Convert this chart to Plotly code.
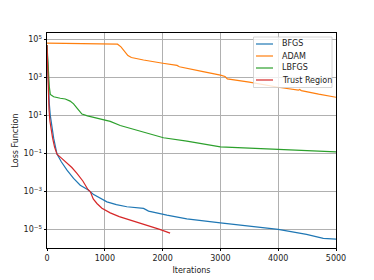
import plotly.graph_objects as go

# ---- data ----
bfgs_iter = [0, 10, 25, 40, 57, 80, 115, 173, 250, 346, 460, 575, 708, 800, 921, 1037,
             1200, 1382, 1670, 1757, 2074, 2419, 3000, 3456, 4000, 4490, 4780, 5000]
bfgs_loss = [5.0e4, 6.3e3, 316, 40, 10, 2.5, 0.63, 0.091, 0.035, 0.013, 4.8e-3, 2.1e-3,
             1.2e-3, 7.1e-4, 4.3e-4, 2.8e-4, 2.0e-4, 1.55e-4, 1.26e-4, 9.1e-5, 5.6e-5,
             3.6e-5, 2.2e-5, 1.5e-5, 1.0e-5, 5.5e-6, 3.4e-6, 3.1e-6]

adam_iter = [0, 600, 1220, 1280, 1340, 1400, 1460, 1560, 1670, 2004, 2250, 2290, 2425,
             2700, 3000, 3080, 3120, 3500, 4000, 4350, 4370, 4400, 4700, 5000]
adam_loss = [6.2e4, 5.8e4, 5.5e4, 4.0e4, 2.2e4, 1.4e4, 1.1e4, 9.3e3, 8.1e3, 5.5e3, 4.2e3,
             3.6e3, 2.9e3, 2.0e3, 1.3e3, 1.1e3, 830, 560, 300, 210, 230, 200, 130, 89]

lbfgs_iter = [0, 20, 40, 57, 115, 230, 316, 400, 460, 530, 605, 700, 805, 978, 1094, 1267,
              1500, 1728, 2015, 2419, 2650, 3000, 3500, 4000, 4500, 5000]
lbfgs_loss = [5.0e4, 3.2e3, 316, 126, 95, 79, 72, 56, 40, 22, 11.7, 9.3, 7.8, 6.2, 4.8,
              2.9, 1.8, 1.15, 0.66, 0.44, 0.34, 0.22, 0.19, 0.16, 0.14, 0.12]

tr_iter = [0, 8, 20, 35, 50, 70, 97, 130, 173, 250, 346, 430, 518, 620, 708, 750, 800,
           864, 950, 1094, 1250, 1440, 1600, 1785, 1950, 2130]
tr_loss = [5.0e4, 3.2e3, 160, 20, 5, 1.6, 0.63, 0.22, 0.091, 0.056, 0.032, 0.018, 8.9e-3,
           3.5e-3, 1.26e-3, 9.5e-4, 4.0e-4, 2.3e-4, 1.3e-4, 7.4e-5, 4.7e-5, 3.1e-5,
           2.2e-5, 1.5e-5, 1.0e-5, 6.3e-6]

y_tickvals = [1e5, 1e3, 1e1, 1e-1, 1e-3, 1e-5]
y_ticktext = ["10<sup>5</sup>", "10<sup>3</sup>", "10<sup>1</sup>",
              "10<sup>\u22121</sup>", "10<sup>\u22123</sup>", "10<sup>\u22125</sup>"]
x_tickvals = [0, 1000, 2000, 3000, 4000, 5000]

series = [
    ("BFGS", bfgs_iter, bfgs_loss, "#1f77b4"),
    ("ADAM", adam_iter, adam_loss, "#ff7f0e"),
    ("LBFGS", lbfgs_iter, lbfgs_loss, "#2ca02c"),
    ("Trust Region", tr_iter, tr_loss, "#d62728"),
]

fig = go.Figure()
for name, xs, ys, col in series:
    fig.add_trace(go.Scatter(x=xs, y=ys, mode="lines", name=name, showlegend=False,
                             line=dict(color=col, width=1.2)))

axis_common = dict(showline=True, linecolor="black", linewidth=0.8, mirror=True,
                   showgrid=True, gridcolor="#b0b0b0", gridwidth=0.6,
                   ticks="outside", ticklen=2.5, tickwidth=0.8, tickcolor="black",
                   zeroline=False, automargin=False,
                   tickfont=dict(size=8, color="#222222"))

fig.update_xaxes(range=[0, 5000], tickvals=x_tickvals,
                 title=dict(text="Iterations", font=dict(size=8, color="#222222"), standoff=5),
                 **axis_common)
fig.update_yaxes(type="log", range=[-5.98, 5.33], tickvals=y_tickvals, ticktext=y_ticktext,
                 title=dict(text="Loss Function", font=dict(size=8, color="#222222"), standoff=3),
                 **axis_common)

# page body has an 8px margin: the figure starts at (8, 8)
OFF = 8
FIG_W, FIG_H = 374 - OFF, 280 - OFF
# target plot box in window pixels
plot_l, plot_r, plot_t, plot_b = 47, 336, 33, 248
W, H = plot_r - plot_l, plot_b - plot_t
px = lambda v: (v - plot_l) / W
py = lambda v: (plot_b - v) / H

# Compact matplotlib-like legend drawn in paper coordinates
fig.add_shape(type="rect", xref="paper", yref="paper",
              x0=px(253.5), x1=px(332), y0=py(87.5), y1=py(37),
              line=dict(color="#cccccc", width=0.8), fillcolor="rgba(255,255,255,0.8)",
              layer="above")
for i, (name, xs, ys, col) in enumerate(series):
    row_y = 44 + 12 * i
    fig.add_shape(type="line", xref="paper", yref="paper",
                  x0=px(256), x1=px(273), y0=py(row_y), y1=py(row_y),
                  line=dict(color=col, width=1.2), layer="above")
    fig.add_annotation(xref="paper", yref="paper", x=px(279.5), y=py(row_y),
                       text=name, showarrow=False, xanchor="left", yanchor="middle",
                       font=dict(size=8, color="#222222"))

fig.update_layout(
    width=FIG_W, height=FIG_H,
    margin=dict(l=plot_l - OFF, r=FIG_W + OFF - plot_r, t=plot_t - OFF,
                b=FIG_H + OFF - plot_b),
    paper_bgcolor="white", plot_bgcolor="white",
    font=dict(family="DejaVu Sans", size=8, color="#222222"),
)

fig.write_html("out.html")
